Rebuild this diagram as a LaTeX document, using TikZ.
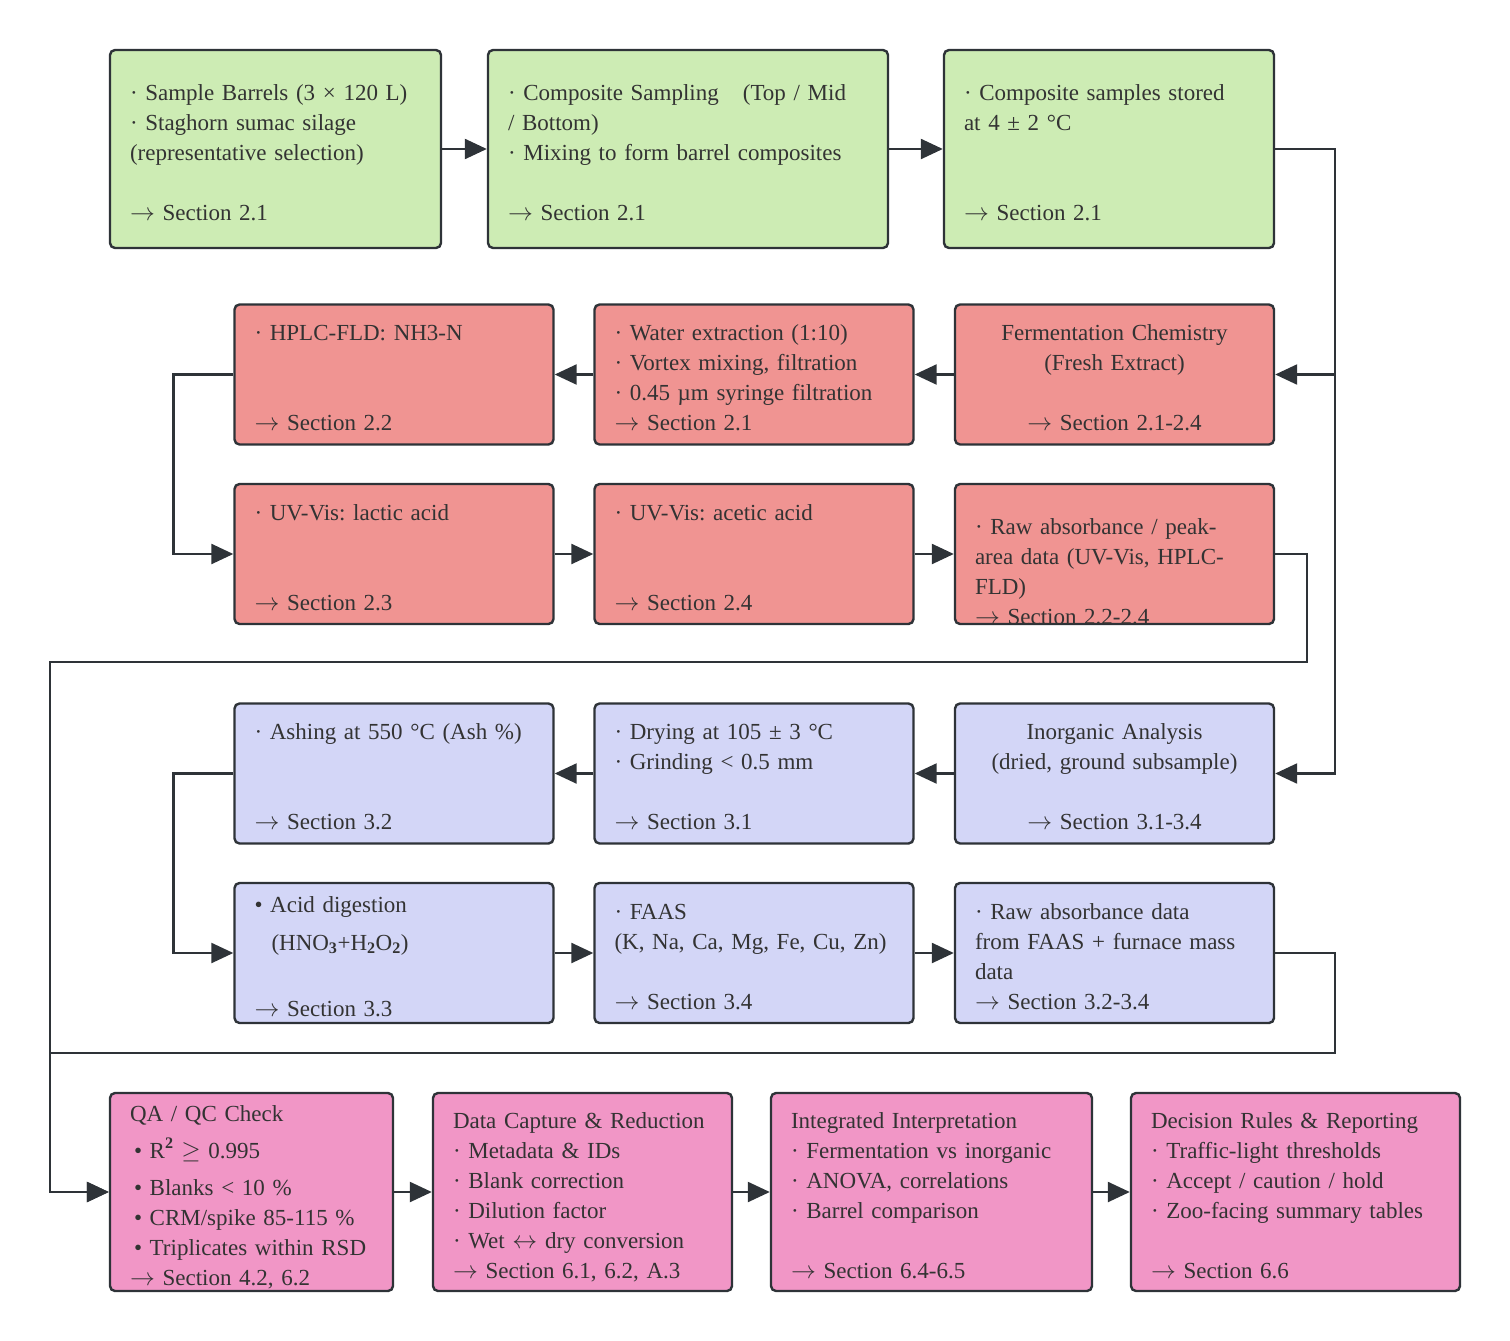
\documentclass[tikz,border=0pt]{standalone}
\usepackage{fontspec}
\setmainfont{Liberation Serif}
\usetikzlibrary{arrows.meta}

\definecolor{edgegray}{HTML}{2E3338}
\definecolor{txtgray}{HTML}{333333}
\definecolor{sampgreen}{HTML}{CDECB4}
\definecolor{fermred}{HTML}{F09492}
\definecolor{inorgblue}{HTML}{D3D6F7}
\definecolor{datapink}{HTML}{F196C6}

\frenchspacing
\newcommand{\leftlines}[2][5pt]{\raisebox{-#1}[\height][\depth]{\begin{tabular}{@{}l@{}}#2\end{tabular}}}
\newcommand{\midlines}[2][5pt]{\raisebox{-#1}[\height][\depth]{\begin{tabular}{@{}c@{}}#2\end{tabular}}}
\newcommand{\secto}{$\rightarrow$}

\tikzset{
  box/.style={draw=edgegray, line width=2.4pt, rounded corners=5pt, inner xsep=20pt, inner ysep=0pt,
    align=left, text=txtgray, font=\fontsize{23}{30}\selectfont},
  tall/.style={minimum height=198pt},
  short/.style={minimum height=140pt, text width=279pt},
  flow/.style={draw=edgegray, line width=2.4pt, -{Triangle[length=22pt,width=20pt]}},
}

\begin{document}
\begin{tikzpicture}[x=1pt, y=-1pt]
    \useasboundingbox (0,0) rectangle (1510,1341);

    % Campionamento
    \node[box, tall, fill=sampgreen, text width=291pt] (barrels) at (275.5,149)
        {\leftlines{· Sample Barrels (3 × 120 L)\\ · Staghorn sumac silage\\ (representative selection)\\ \\ \secto{} Section 2.1}};
    \node[box, tall, fill=sampgreen, text width=360pt] (composite) at (688,149)
        {\leftlines{· Composite Sampling\hspace{24pt}(Top / Mid\\ / Bottom)\\ · Mixing to form barrel composites\\ \\ \secto{} Section 2.1}};
    \node[box, tall, fill=sampgreen, text width=290pt] (storage) at (1109,149)
        {\leftlines{· Composite samples stored\\ at 4 ± 2 °C\\ \\ \\ \secto{} Section 2.1}};

    % Ramo fermentazione
    \node[box, short, fill=fermred, align=center] (ferm) at (1114.5,374.5)
        {\midlines{Fermentation Chemistry\\ (Fresh Extract)\\ \\ \secto{} Section 2.1-2.4}};
    \node[box, short, fill=fermred] (extract) at (754,374.5)
        {\leftlines{· Water extraction (1:10)\\ · Vortex mixing, filtration\\ · 0.45 µm syringe filtration\\ \secto{} Section 2.1}};
    \node[box, short, fill=fermred] (hplc) at (394,374.5)
        {\leftlines{· HPLC-FLD: NH3-N\\ \\ \\ \secto{} Section 2.2}};
    \node[box, short, fill=fermred] (lactic) at (394,554)
        {\leftlines{· UV-Vis: lactic acid\\ \\ \\ \secto{} Section 2.3}};
    \node[box, short, fill=fermred] (acetic) at (754,554)
        {\leftlines{· UV-Vis: acetic acid\\ \\ \\ \secto{} Section 2.4}};
    \node[box, short, fill=fermred] (rawuv) at (1114.5,554)
        {\leftlines[19pt]{· Raw absorbance / peak-\\ area data (UV-Vis, HPLC-\\ FLD)\\ \secto{} Section 2.2-2.4}};

    % Ramo inorganico
    \node[box, short, fill=inorgblue, align=center] (inorg) at (1114.5,773.5)
        {\midlines{Inorganic Analysis\\ (dried, ground subsample)\\ \\ \secto{} Section 3.1-3.4}};
    \node[box, short, fill=inorgblue] (drying) at (754,773.5)
        {\leftlines{· Drying at 105 ± 3 °C\\ · Grinding < 0.5 mm\\ \\ \secto{} Section 3.1}};
    \node[box, short, fill=inorgblue] (ashing) at (394,773.5)
        {\leftlines{· Ashing at 550 °C (Ash \%)\\ \\ \\ \secto{} Section 3.2}};
    \node[box, short, fill=inorgblue] (digest) at (394,953)
        {\leftlines{• Acid digestion\\[8pt] \hspace{17pt}(HNO$_{\mathbf{3}}$+H$_{\mathbf{2}}$O$_{\mathbf{2}}$)\\[36pt] \secto{} Section 3.3}};
    \node[box, short, fill=inorgblue] (faas) at (754,953)
        {\leftlines{· FAAS\\ (K, Na, Ca, Mg, Fe, Cu, Zn)\\ \\ \secto{} Section 3.4}};
    \node[box, short, fill=inorgblue] (rawaas) at (1114.5,953)
        {\leftlines{· Raw absorbance data\\ from FAAS + furnace mass\\ data\\ \secto{} Section 3.2-3.4}};

    % Dati e decisioni
    \node[box, tall, fill=datapink, text width=243pt] (qa) at (251.5,1192)
        {\leftlines{QA / QC Check\\[7pt] \hspace{4pt}• R$^{\mathbf{2}}$ $\geq$ 0.995\\[7pt] \hspace{4pt}• Blanks < 10 \%\\ \hspace{4pt}• CRM/spike 85-115 \%\\ \hspace{4pt}• Triplicates within RSD\\ \secto{} Section 4.2, 6.2}};
    \node[box, tall, fill=datapink, text width=259pt] (capture) at (582.5,1192)
        {\leftlines{Data Capture \& Reduction\\ · Metadata \& IDs\\ · Blank correction\\ · Dilution factor\\ · Wet $\leftrightarrow$ dry conversion\\ \secto{} Section 6.1, 6.2, A.3}};
    \node[box, tall, fill=datapink, text width=281pt] (interp) at (931.5,1192)
        {\leftlines{Integrated Interpretation\\ · Fermentation vs inorganic\\ · ANOVA, correlations\\ · Barrel comparison\\ \\ \secto{} Section 6.4-6.5}};
    \node[box, tall, fill=datapink, text width=289pt] (decision) at (1295.5,1192)
        {\leftlines{Decision Rules \& Reporting\\ · Traffic-light thresholds\\ · Accept / caution / hold\\ · Zoo-facing summary tables\\ \\ \secto{} Section 6.6}};

    % Binari di ritorno
    \coordinate (busA) at (50,662);
    \coordinate (busB) at (50,1053);

    % Collegamenti
    \draw[flow] (barrels) -- (composite);
    \draw[flow] (composite) -- (storage);
    \draw[flow] (storage.east) -- ++(60,0) |- (ferm.east);
    \draw[flow] (storage.east) -- ++(60,0) |- (inorg.east);

    \draw[flow] (ferm) -- (extract);
    \draw[flow] (extract) -- (hplc);
    \draw[flow] (hplc.west) -- ++(-60,0) |- (lactic.west);
    \draw[flow] (lactic) -- (acetic);
    \draw[flow] (acetic) -- (rawuv);
    \draw[flow] (rawuv.east) -- ++(32,0) |- (busA) |- (qa.west);

    \draw[flow] (inorg) -- (drying);
    \draw[flow] (drying) -- (ashing);
    \draw[flow] (ashing.west) -- ++(-60,0) |- (digest.west);
    \draw[flow] (digest) -- (faas);
    \draw[flow] (faas) -- (rawaas);
    \draw[flow] (rawaas.east) -- ++(60,0) |- (busB) |- (qa.west);

    \draw[flow] (qa) -- (capture);
    \draw[flow] (capture) -- (interp);
    \draw[flow] (interp) -- (decision);
\end{tikzpicture}
\end{document}
